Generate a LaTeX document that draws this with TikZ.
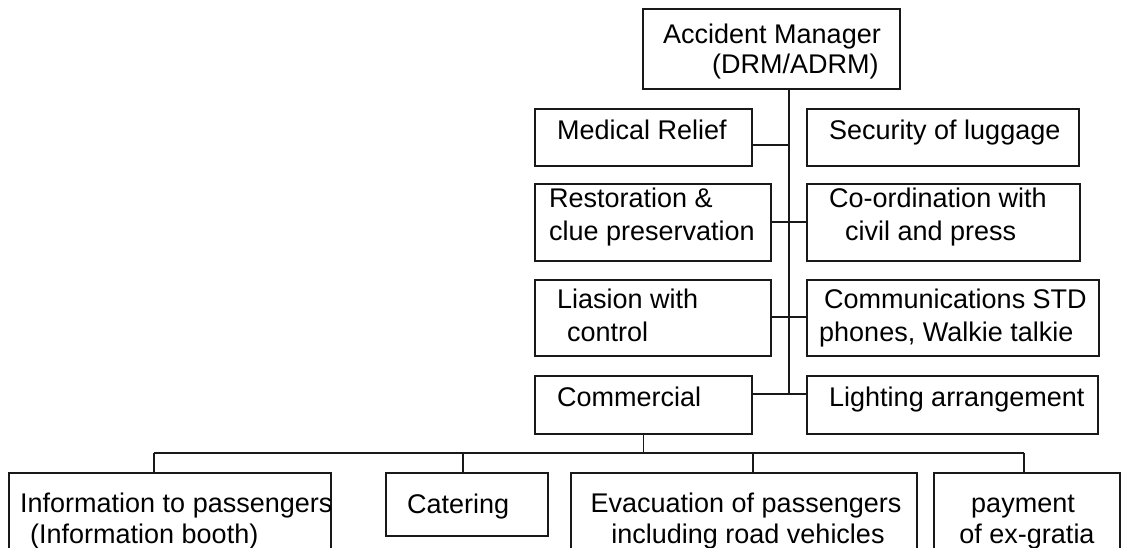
\documentclass[tikz,border=0pt]{standalone}
\usepackage{fontspec}
\setmainfont{Liberation Sans}
\begin{document}
\begin{tikzpicture}[x={(1pt,0)}, y={(0,-1pt)},
  box/.style={draw=black!90, line width=1.4pt, inner sep=0pt, outer sep=0pt,
              anchor=north west, rectangle},
  lbl/.style={anchor=base west, inner sep=0pt, font=\fontsize{27}{31}\selectfont},
  clbl/.style={anchor=base, inner sep=0pt, font=\fontsize{27}{31}\selectfont},
  link/.style={draw=black!90, line width=1.4pt}]
\useasboundingbox (0,0) rectangle (1121,547);
\clip (0,0) rectangle (1121,547);

% head of the organisation
\node[box, minimum width=257pt, minimum height=80pt] (mgr) at (643,9) {};
\node[lbl] (mgrA) at (663,43) {Accident Manager};
\node[lbl] (mgrB) at (712,73) {(DRM/ADRM)};

% left column
\node[box, minimum width=217pt, minimum height=57pt] (med) at (535,109) {};
\node[lbl] (medT) at (557,139) {Medical Relief};
\node[box, minimum width=236pt, minimum height=77pt] (res) at (535,184) {};
\node[lbl] (resA) at (549,207) {Restoration \&};
\node[lbl] (resB) at (549,240) {clue preservation};
\node[box, minimum width=236pt, minimum height=76pt] (lia) at (535,280) {};
\node[lbl] (liaA) at (557,308) {Liasion with};
\node[lbl] (liaB) at (567,341) {control};
\node[box, minimum width=217pt, minimum height=58pt] (cmr) at (535,376) {};
\node[lbl] (cmrT) at (557,406) {Commercial};

% right column
\node[box, minimum width=272pt, minimum height=57pt] (sec) at (807,109) {};
\node[lbl] (secT) at (829,139) {Security of luggage};
\node[box, minimum width=273pt, minimum height=77pt] (coo) at (807,184) {};
\node[lbl] (cooA) at (829,207) {Co-ordination with};
\node[lbl] (cooB) at (845,240) {civil and press};
\node[box, minimum width=292pt, minimum height=76pt] (com) at (807,280) {};
\node[lbl] (comA) at (824,308) {Communications STD};
\node[lbl] (comB) at (819,341) {phones, Walkie talkie};
\node[box, minimum width=291pt, minimum height=58pt] (lig) at (807,376) {};
\node[lbl] (ligT) at (829,406) {Lighting arrangement};

% commercial branches
\node[box, minimum width=322pt, minimum height=100pt] (inf) at (9,473) {};
\node[lbl] (infA) at (20,512) {Information to passengers};
\node[lbl] (infB) at (30,543) {(Information booth)};
\node[box, minimum width=162pt, minimum height=63pt] (cat) at (386,473) {};
\node[lbl] (catT) at (407,513) {Catering};
\node[box, minimum width=346pt, minimum height=100pt] (eva) at (571,473) {};
\node[clbl] (evaA) at (746,512) {Evacuation of passengers};
\node[clbl] (evaB) at (748,543) {including road vehicles};
\node[box, minimum width=186pt, minimum height=100pt] (pay) at (934,473) {};
\node[clbl] (payA) at (1023,512) {payment};
\node[clbl] (payB) at (1027,543) {of ex-gratia};

% junctions on the trunk and on the bus
\coordinate (jm) at (789,145);
\coordinate (jr) at (789,222);
\coordinate (jl) at (789,317);
\coordinate (jc) at (789,394);
\coordinate (d1) at (154,453);
\coordinate (d2) at (463,453);
\coordinate (d3) at (753,453);
\coordinate (d4) at (1024,453);

% trunk and side links
\draw[link] (jc |- mgr.south) -- (jc);
\draw[link] (med.east |- jm) -- (jm);
\draw[link] (res.east |- jr) -- (coo.west |- jr);
\draw[link] (lia.east |- jl) -- (com.west |- jl);
\draw[link] (cmr.east |- jc) -- (lig.west |- jc);

% bus under Commercial
\draw[link] (cmr.south) -- (cmr.south |- d1);
\draw[link] (d1) -- (d4);
\draw[link] (d1) -- (d1 |- inf.north);
\draw[link] (d2) -- (d2 |- cat.north);
\draw[link] (d3) -- (d3 |- eva.north);
\draw[link] (d4) -- (d4 |- pay.north);
\end{tikzpicture}
\end{document}
